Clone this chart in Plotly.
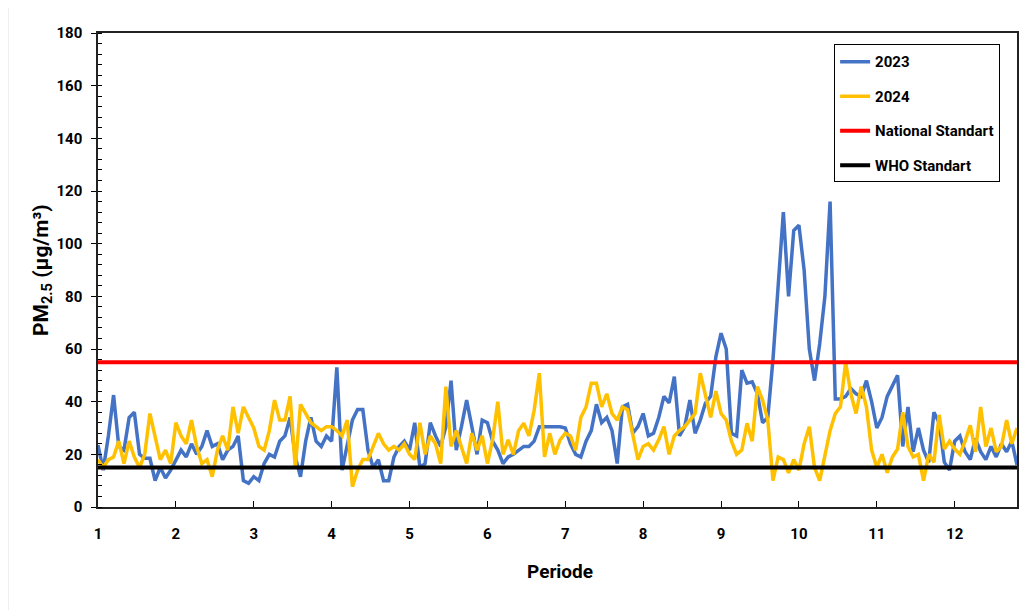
import plotly.graph_objects as go

# ---------------- data ----------------
period_start = 1
samples_per_period = 15

pm25_2023 = [
    23.5, 14, 27, 42.5, 23, 21.6, 34, 36, 20, 18.5, 18.5, 10, 15, 11, 14,
    18, 21.6, 19, 24, 20, 23, 29, 23, 24, 18, 21.6, 23, 27, 10, 9,
    11.5, 10, 16.5, 20, 19, 25, 27, 34, 19, 11.5, 25, 34, 25, 23, 27,
    25, 53, 14, 24, 33, 37, 37, 21.6, 15, 18, 10, 10, 19, 23, 25,
    21.6, 32, 15, 16.5, 32, 27, 23, 30.5, 48, 21.6, 30.5, 40.6, 30.5, 20, 33,
    32, 25, 21.6, 16.5, 19, 20, 21.6, 23, 23, 25, 30.5, 30.5, 30.5, 30.5, 30.5,
    30, 24, 20, 19, 25, 29, 39, 32, 34, 29, 16.5, 38, 39, 28, 30.5,
    35.5, 27, 28, 34, 42, 39.5, 49.5, 27, 30.5, 40.6, 28, 33, 39.5, 42, 57,
    66, 60, 28, 27, 52, 47, 47.5, 43, 32, 34, 56, 85, 112, 80, 105,
    107, 90, 60, 48, 62, 80, 116, 41, 41, 42, 45, 43, 42, 48, 40,
    30, 34, 42, 46, 50, 23, 38, 21, 30, 21.6, 17, 36, 32, 17, 14,
    25, 27, 21, 18, 26, 21, 18, 23, 19, 24, 21, 25, 16,
]

pm25_2024 = [
    18, 15, 18, 19, 25, 16.5, 25, 19, 15, 20, 35.5, 27, 18, 21.6, 16.5,
    32, 27, 24, 33, 23, 16.5, 18, 11.5, 21.6, 27, 21.6, 38, 28, 38, 34,
    30, 23, 21.6, 29, 40.6, 33, 33, 42, 15, 39, 35.5, 32, 30.5, 29, 30.5,
    30.5, 29, 27, 33, 7.7, 14, 18, 18, 23, 28, 24, 21.6, 23, 21.6, 24,
    20, 18, 32, 20, 27, 24, 16.5, 45.7, 23, 29, 23, 16.5, 28, 21.6, 27,
    16.5, 25.5, 40, 20, 25.5, 20, 29, 31.8, 27, 36.7, 50.8, 19, 28, 20, 25.5,
    28, 27, 21.6, 34, 38, 47, 47, 38, 43, 35.5, 33, 38, 37, 28, 18,
    23, 24, 21.6, 25.5, 30.5, 20, 27, 29, 30.5, 33, 35.5, 50.8, 43, 34, 44,
    35.5, 33, 25, 20, 21.6, 31.8, 25, 45.7, 40.6, 33, 10, 19, 18, 13, 18,
    14, 24, 30.5, 15, 10, 20, 29, 35.5, 38, 55, 43, 35.5, 45.7, 38, 21.6,
    15, 20, 13, 19, 22, 36, 23, 19, 20, 10, 20, 17, 35, 22, 25,
    22, 20, 25, 31, 21, 38, 23, 30, 21, 23, 33, 24, 30,
]

national_standard = 55
who_standard = 15

x_ticks = list(range(1, 13))
y_ticks = list(range(0, 181, 20))

periods = [period_start + i / samples_per_period for i in range(len(pm25_2023))]
x_span = [periods[0], periods[-1]]

# ---------------- figure ----------------
FONT = "Liberation Sans Narrow, Roboto, Arial, sans-serif"

fig = go.Figure()
fig.add_trace(go.Scatter(x=periods, y=pm25_2023, mode="lines", name="<b>2023</b>",
                         line=dict(color="#4472C4", width=3.5), legendgroup="a"))
fig.add_trace(go.Scatter(x=periods, y=pm25_2024, mode="lines", name="<b>2024</b>",
                         line=dict(color="#FFC000", width=3.5), legendgroup="b"))
fig.add_trace(go.Scatter(x=x_span, y=[national_standard] * 2, mode="lines",
                         name="<b>National Standart</b>",
                         line=dict(color="#FF0000", width=4), legendgroup="c"))
fig.add_trace(go.Scatter(x=x_span, y=[who_standard] * 2, mode="lines",
                         name="<b>WHO Standart</b>",
                         line=dict(color="#000000", width=4), legendgroup="d"))

fig.update_layout(
    width=1036, height=610,
    margin=dict(l=90, r=27, t=25, b=111, autoexpand=False),
    paper_bgcolor="white", plot_bgcolor="white",
    font=dict(family=FONT, size=15, color="#000000"),
    showlegend=True,
    legend=dict(x=0.801, y=0.976, xanchor="left", yanchor="top",
                bordercolor="#000000", borderwidth=1, bgcolor="white",
                font=dict(family=FONT, size=15, color="#000000"),
                tracegroupgap=12, traceorder="grouped", itemwidth=30),
    xaxis=dict(
        range=[x_span[0], x_span[1]],
        tickvals=x_ticks, ticktext=[f"<b>{v}</b>" for v in x_ticks],
        ticks="inside", ticklen=6, tickcolor="#000000",
        ticklabelstandoff=12,
        showline=True, linecolor="#222222", linewidth=1.5, mirror=True,
        showgrid=False, zeroline=False, automargin=False,
        tickfont=dict(family=FONT, size=15),
    ),
    yaxis=dict(
        range=[0, 180],
        tickvals=y_ticks, ticktext=[f"<b>{v}</b>" for v in y_ticks],
        ticks="outside", ticklen=5, tickcolor="#000000",
        ticklabelstandoff=6,
        minor=dict(dtick=4, ticks="inside", ticklen=4, tickcolor="#000000", showgrid=False),
        showline=True, linecolor="#222222", linewidth=1.5, mirror=True,
        showgrid=False, zeroline=False, automargin=False,
        tickfont=dict(family=FONT, size=15),
    ),
    annotations=[
        dict(text="<b>Periode</b>", xref="paper", yref="paper", x=0.5027, y=-0.137,
             xanchor="center", yanchor="middle", showarrow=False,
             font=dict(family=FONT, size=19, color="#000000")),
        dict(text="<b>PM<sub>2.5</sub> (µg/m³)</b>", xref="paper", yref="paper",
             x=-0.0609, y=0.5, xanchor="center", yanchor="middle", textangle=-90,
             showarrow=False, font=dict(family=FONT, size=21, color="#000000")),
    ],
    shapes=[dict(type="rect", xref="paper", yref="paper",
                 x0=-0.098, x1=1.2, y0=-0.4, y1=1.055,
                 line=dict(color="#D9D9D9", width=1), fillcolor="rgba(0,0,0,0)", layer="below")],
)

fig.write_html("out.html")
